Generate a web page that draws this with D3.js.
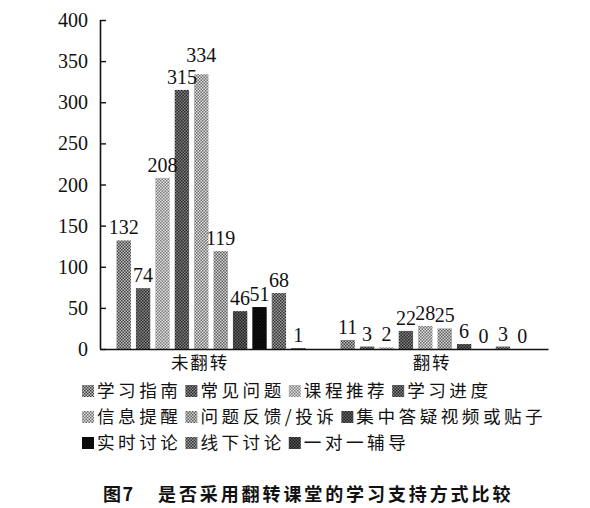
<!DOCTYPE html>
<html><head><meta charset="utf-8">
<script src="https://cdn.jsdelivr.net/npm/d3@7"></script>
<style>
html,body{margin:0;padding:0;background:#fff;}
svg{display:block;}
</style></head>
<body>
<svg id="chart" width="590" height="508"></svg>
<script>
const categories = ["未翻转", "翻转"];
const series = ["学习指南", "常见问题", "课程推荐", "学习进度", "信息提醒", "问题反馈/投诉", "集中答疑视频或贴子", "实时讨论", "线下讨论", "一对一辅导"];
const valuesNotFlipped = [132, 74, 208, 315, 334, 119, 46, 51, 68, 1];
const valuesFlipped = [11, 3, 2, 22, 28, 25, 6, 0, 3, 0];
const yTicks = [0, 50, 100, 150, 200, 250, 300, 350, 400];
const legendRows = [[0, 1, 2, 3], [4, 5, 6], [7, 8, 9]];
const titleNum = "图7";
const titleText = "是否采用翻转课堂的学习支持方式比较";

// halftone-like two-tone fills per series
const toneDark = ["#3c3c3c", "#2a2a2a", "#7a7a7a", "#262626", "#6e6e6e", "#5e5e5e", "#1e1e1e", "#000000", "#333333", "#1a1a1a"];
const toneLight = ["#c4c4c4", "#8a8a8a", "#e2e2e2", "#858585", "#dedede", "#d4d4d4", "#6a6a6a", "#141414", "#9c9c9c", "#5a5a5a"];

(function () {
const svg = d3.select("#chart");
const defs = svg.append("defs");
series.forEach((s, i) => {
  const p = defs.append("pattern").attr("id", "pat" + i)
    .attr("patternUnits", "userSpaceOnUse").attr("width", 3).attr("height", 3);
  p.append("rect").attr("width", 3).attr("height", 3).attr("fill", toneLight[i]);
  p.append("rect").attr("x", 0).attr("y", 0).attr("width", 1.5).attr("height", 1.5).attr("fill", toneDark[i]);
  p.append("rect").attr("x", 1.5).attr("y", 1.5).attr("width", 1.5).attr("height", 1.5).attr("fill", toneDark[i]);
});

const data = categories.map((c, ci) => ({
  cat: c,
  vals: (ci === 0 ? valuesNotFlipped : valuesFlipped).map((v, si) => ({ s: si, v }))
}));

const mLeft = 100, mRight = 548, mTop = 20, mBottom = 349;
const y = d3.scaleLinear().domain([0, 400]).range([mBottom, mTop]);
const x0 = d3.scaleBand().domain(categories).range([mLeft, mRight]);
const x1 = d3.scaleBand().domain(d3.range(series.length)).range([14, 208]).paddingInner(0.26).paddingOuter(0.13);

const serif = "'Liberation Serif','Times New Roman',serif";
const cjk = "'Noto Sans CJK SC','Noto Sans CJK JP',sans-serif";

// bars
const g = svg.append("g");
const groups = g.selectAll("g.grp").data(data).join("g").attr("class", "grp")
  .attr("transform", d => `translate(${x0(d.cat)},0)`);
groups.selectAll("rect").data(d => d.vals).join("rect")
  .attr("x", d => x1(d.s)).attr("width", x1.bandwidth())
  .attr("y", d => y(d.v)).attr("height", d => y(0) - y(d.v))
  .attr("fill", d => `url(#pat${d.s})`);
groups.each(function () {
  const labels = d3.select(this).selectAll("text").data(d => d.vals).join("text")
    .attr("x", d => x1(d.s) + x1.bandwidth() / 2)
    .attr("y", d => y(d.v) - 6)
    .attr("text-anchor", "middle")
    .attr("font-family", serif).attr("font-size", 20).attr("fill", "#111")
    .text(d => d.v);
  // simple collision pass: raise the higher label if it collides with its neighbour
  const nodes = labels.nodes();
  for (let i = 1; i < nodes.length; i++) {
    const a = nodes[i - 1], b = nodes[i];
    const ba = a.getBBox(), bb = b.getBBox();
    const hOver = Math.min(ba.x + ba.width, bb.x + bb.width) - Math.max(ba.x, bb.x);
    const vOver = Math.min(ba.y + ba.height, bb.y + bb.height) - Math.max(ba.y, bb.y);
    if (hOver > 2 && vOver > 0) {
      const up = ba.y < bb.y ? a : b;
      const other = up === a ? b : a;
      const ob = other.getBBox();
      const ub = up.getBBox();
      const shift = (ub.y + ub.height) - ob.y;
      d3.select(up).attr("y", +d3.select(up).attr("y") - shift);
    }
  }
});

// y axis
const yAxis = d3.axisRight(y).tickValues(yTicks).tickSize(6).tickFormat("");
const ya = svg.append("g").attr("transform", `translate(${mLeft},0)`).call(yAxis);
ya.select(".domain").attr("d", `M0.5,${mTop}V${mBottom}`).attr("stroke", "#111").attr("stroke-width", 1.6);
ya.selectAll(".tick line").attr("stroke", "#111").attr("stroke-width", 1.4);
svg.append("g").selectAll("text").data(yTicks).join("text")
  .attr("x", 88).attr("y", d => y(d)).attr("dy", "0.35em")
  .attr("text-anchor", "end").attr("font-family", serif).attr("font-size", 20).attr("fill", "#111")
  .text(d => d);

// x axis
const xAxis = d3.axisBottom(x0).tickSize(0).tickFormat("");
const xa = svg.append("g").attr("transform", `translate(0,${mBottom})`).call(xAxis);
xa.select(".domain").attr("stroke", "#111").attr("stroke-width", 1.6);
svg.append("g").selectAll("text").data(categories).join("text")
  .attr("x", d => x0(d) + x0.bandwidth() / 2 - (d === categories[0] ? 12 : 4))
  .attr("y", 369).attr("text-anchor", "middle")
  .attr("font-family", cjk).attr("font-size", 17.5).attr("letter-spacing", 1.8).attr("fill", "#111")
  .text(d => d);

// legend
const lg = svg.append("g");
legendRows.forEach((row, ri) => {
  let xx = 82;
  const cy = 391 + ri * 26;
  row.forEach(si => {
    lg.append("rect").attr("x", xx).attr("y", cy - 6).attr("width", 12).attr("height", 12)
      .attr("fill", `url(#pat${si})`);
    const t = lg.append("text").attr("x", xx + 15).attr("y", cy).attr("dy", "0.36em")
      .attr("font-family", cjk).attr("font-size", 17.6).attr("letter-spacing", 3.5)
      .attr("fill", "#111").text(series[si]);
    xx = xx + 15 + t.node().getComputedTextLength() + 4;
  });
});

// title
svg.append("text").attr("x", 103).attr("y", 501)
  .attr("font-family", cjk).attr("font-size", 18).attr("letter-spacing", 1.5)
  .attr("font-weight", "bold").attr("fill", "#111")
  .text(titleNum);
svg.append("text").attr("x", 158).attr("y", 501)
  .attr("font-family", cjk).attr("font-size", 18).attr("letter-spacing", 2.9)
  .attr("font-weight", "bold").attr("fill", "#111")
  .text(titleText);
})();
</script>
</body></html>
